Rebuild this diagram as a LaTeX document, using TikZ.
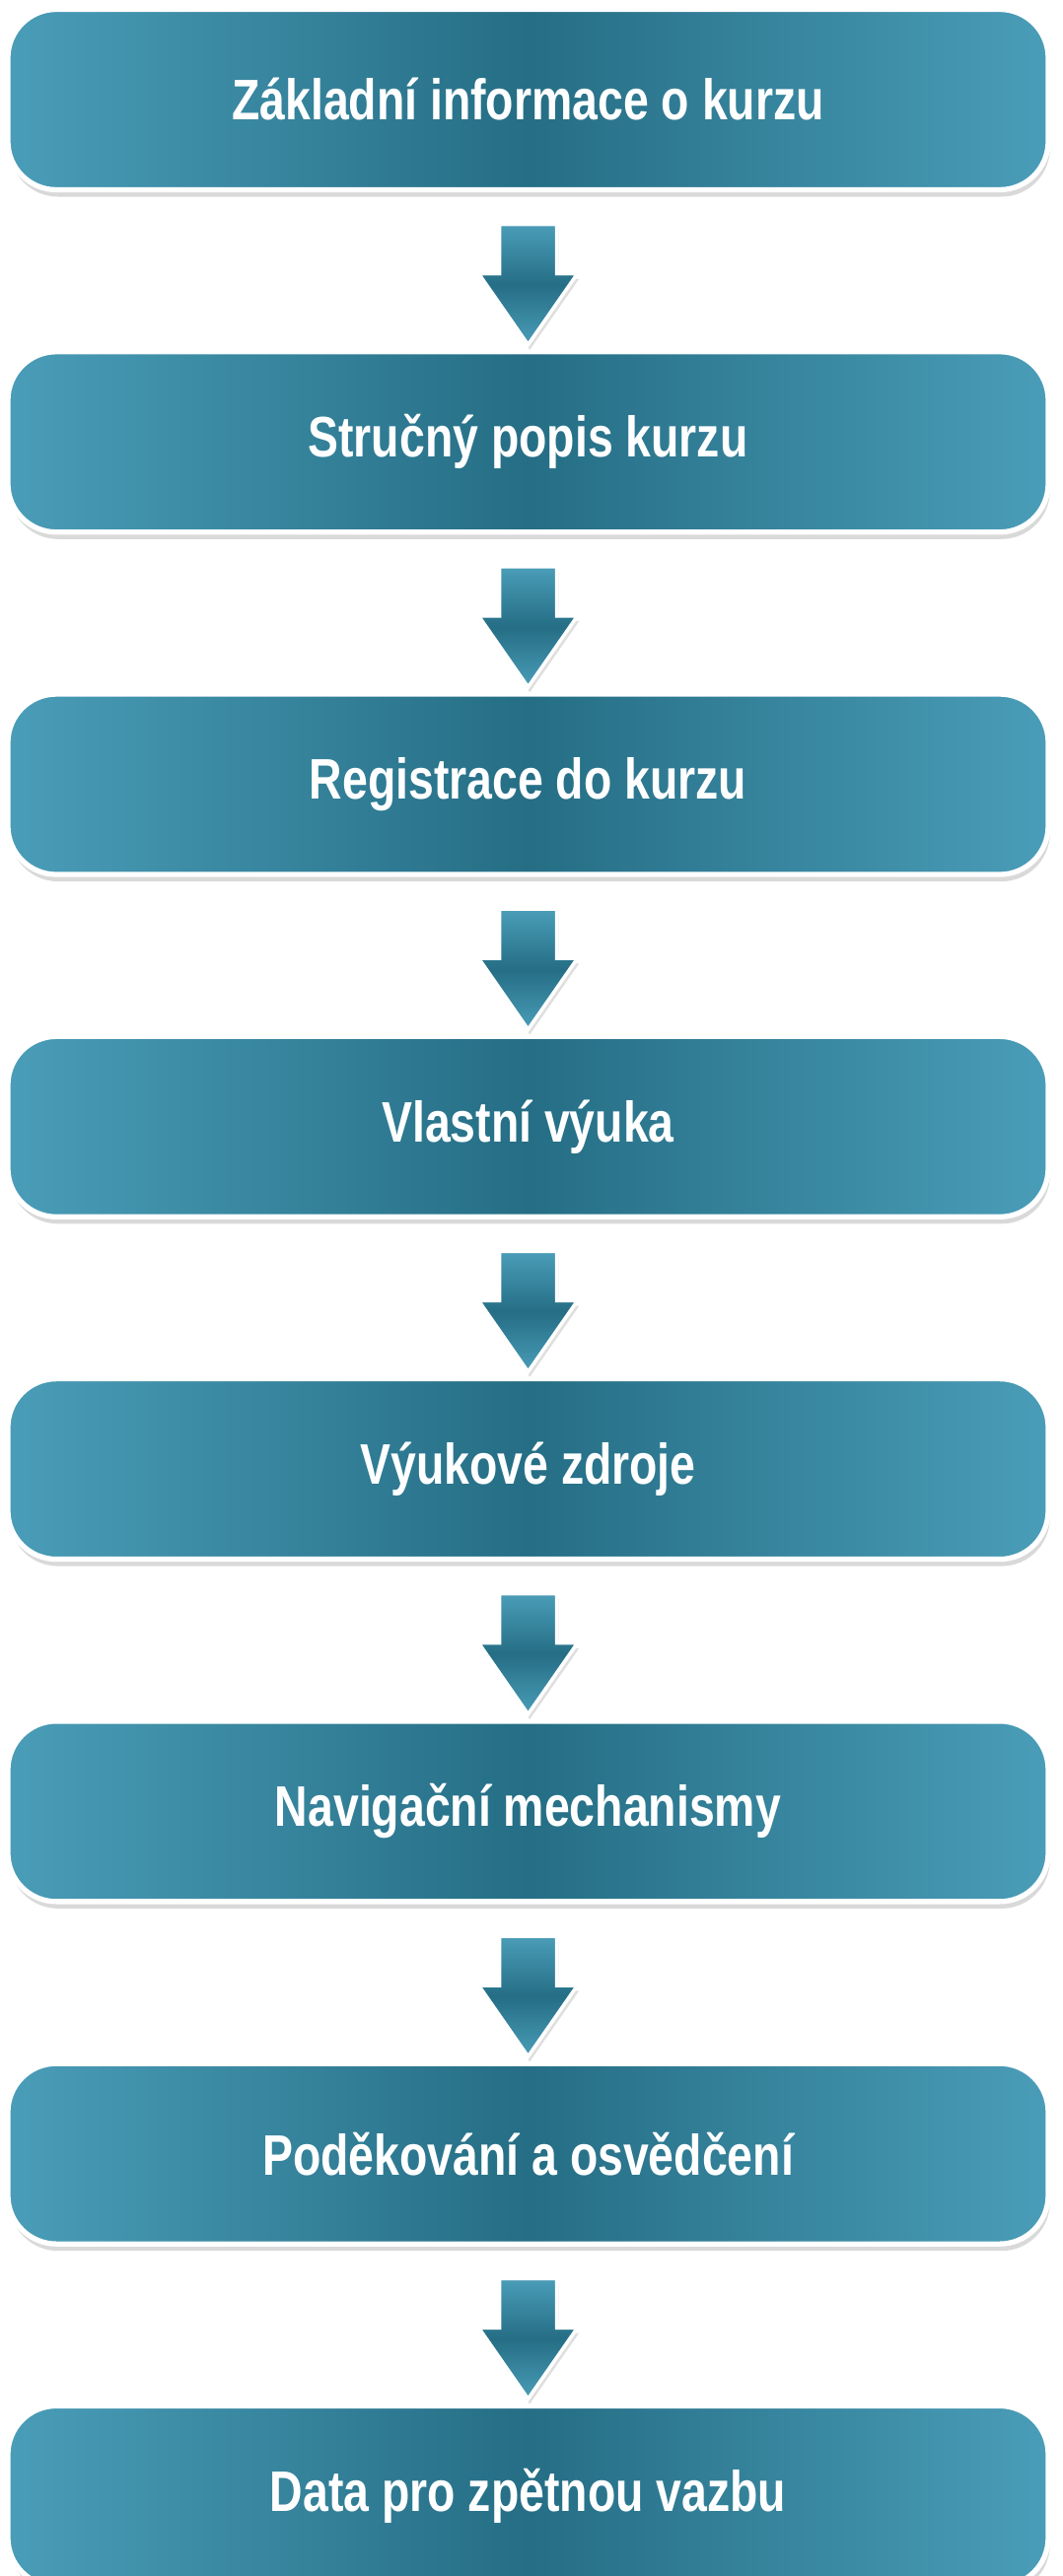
\documentclass[tikz,border=0pt]{standalone}
\usepackage{fontspec}
\setmainfont{Liberation Sans}[FakeStretch=0.8]
\usetikzlibrary{positioning,shadows,calc}
\definecolor{tealLight}{HTML}{4A9DB8}
\definecolor{tealDark}{HTML}{256E85}
\tikzset{
  stepbox/.style={rectangle,rounded corners=14pt,draw=white,line width=1.5pt,
    minimum width=10.55cm,minimum height=1.83cm,
    left color=tealLight,right color=tealLight,middle color=tealDark,
    drop shadow={shadow xshift=0.5pt,shadow yshift=-2pt,opacity=0.3},
    text=white,font=\bfseries\fontsize{16.5}{20}\selectfont},
  flowarrow/.style={draw=white,line width=1pt,top color=tealLight,bottom color=tealLight,
    middle color=tealDark,drop shadow={shadow xshift=0.5pt,shadow yshift=-1.5pt,opacity=0.25}}
}
\begin{document}
\begin{tikzpicture}[x=1cm,y=1cm]
  \useasboundingbox (0,0) rectangle (10.78,-26.13);
  \node[stepbox] (s1) at (5.355,-1.01) {Základní informace o kurzu};
  \node[stepbox,below=1.59cm of s1] (s2) {Stručný popis kurzu};
  \node[stepbox,below=1.59cm of s2] (s3) {Registrace do kurzu};
  \node[stepbox,below=1.59cm of s3] (s4) {Vlastní výuka};
  \node[stepbox,below=1.59cm of s4] (s5) {Výukové zdroje};
  \node[stepbox,below=1.59cm of s5] (s6) {Navigační mechanismy};
  \node[stepbox,below=1.59cm of s6] (s7) {Poděkování a osvědčení};
  \node[stepbox,below=1.59cm of s7] (s8) {Data pro zpětnou vazbu};
  % arrows between the boxes
  \foreach \a/\b in {s1/s2,s2/s3,s3/s4,s4/s5,s5/s6,s6/s7,s7/s8}{
    \coordinate (t) at ($(\a.south)!0.5!(\b.north)$);
    \path[flowarrow] ([xshift=-0.29cm,yshift=0.47cm]t) -- ++(0,-0.5) -- ++(-0.21,0)
      -- ++(0.5,-0.72) -- ++(0.5,0.72) -- ++(-0.21,0) -- ++(0,0.5) -- cycle;
  }
\end{tikzpicture}
\end{document}
